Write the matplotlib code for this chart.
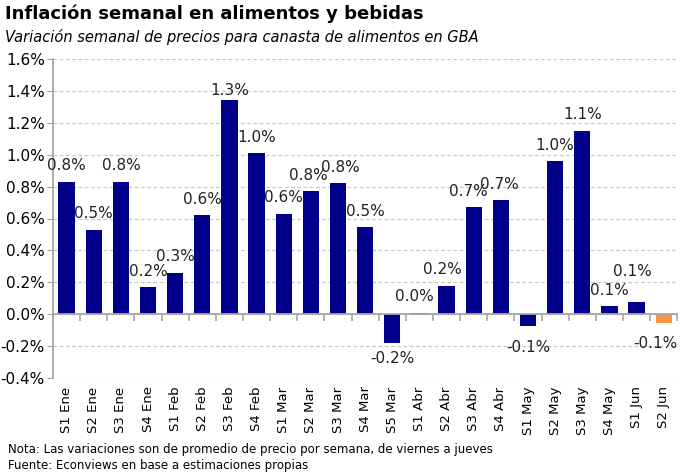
import numpy as np
import matplotlib
matplotlib.use("Agg")
import matplotlib.pyplot as plt
from matplotlib.ticker import FuncFormatter, FixedLocator

# Datos
semanas = ["S1 Ene", "S2 Ene", "S3 Ene", "S4 Ene", "S1 Feb", "S2 Feb", "S3 Feb",
           "S4 Feb", "S1 Mar", "S2 Mar", "S3 Mar", "S4 Mar", "S5 Mar", "S1 Abr",
           "S2 Abr", "S3 Abr", "S4 Abr", "S1 May", "S2 May", "S3 May", "S4 May",
           "S1 Jun", "S2 Jun"]
variacion = [0.83, 0.53, 0.83, 0.17, 0.26, 0.62, 1.34, 1.01, 0.63, 0.77, 0.82,
             0.545, -0.18, 0.01, 0.18, 0.67, 0.715, -0.075, 0.96, 1.15, 0.052,
             0.075, -0.055]
etiquetas = ["0.8%", "0.5%", "0.8%", "0.2%", "0.3%", "0.6%", "1.3%", "1.0%",
             "0.6%", "0.8%", "0.8%", "0.5%", "-0.2%", "0.0%", "0.2%", "0.7%",
             "0.7%", "-0.1%", "1.0%", "1.1%", "0.1%", "0.1%", "-0.1%"]

# ajuste manual de algunas etiquetas (puntos)
desp_x = {9: -2, 10: 2, 13: -4, 14: -3, 15: -4, 16: -1, 21: -3, 22: -6}
desp_y = {6: -4, 17: 4, 21: 11, 22: 3}

azul = "#00008B"
naranja = "#F79646"
colores = [azul] * (len(semanas) - 1) + [naranja]

fig = plt.figure(figsize=(6.8, 4.75), dpi=100)
ax = fig.add_axes([0.078, 0.204, 0.918, 0.672])

x = np.arange(len(semanas))
bars = ax.bar(x, variacion, width=0.6, color=colores, zorder=3)

ax.set_ylim(-0.4, 1.6)
ax.set_xlim(-0.5, len(semanas) - 0.5)
ax.set_yticks(np.arange(-0.4, 1.61, 0.2))
ax.yaxis.set_major_formatter(FuncFormatter(lambda v, p: f"{v:.1f}%"))
ax.grid(axis="y", linestyle=(0, (3, 2)), color="#c8c8c8", linewidth=0.9, zorder=0)

# eje en cero con marcas entre categorias
ax.spines["right"].set_visible(False)
ax.spines["bottom"].set_visible(False)
ax.spines["top"].set_position(("data", 0))
ax.spines["top"].set_color("#a6a6a6")
ax.spines["top"].set_linewidth(1.3)
ax.spines["top"].set_zorder(4)
ax.spines["left"].set_color("#a6a6a6")
ax.spines["left"].set_linewidth(1.3)

ax.set_xticks(x)
ax.set_xticklabels(semanas, rotation=90, fontsize=9.5)
ax.tick_params(axis="x", which="major", length=0, pad=6)
ax.xaxis.set_minor_locator(FixedLocator(np.arange(-0.5, len(semanas), 1.0)))
ax.tick_params(axis="x", which="minor", top=True, bottom=False, direction="in",
               length=5, color="#a6a6a6", width=1.2)
ax.tick_params(axis="y", length=4, color="#a6a6a6", labelsize=11, pad=2)

for i, (b, v, t) in enumerate(zip(bars, variacion, etiquetas)):
    if v >= 0:
        dy, va = 6 + desp_y.get(i, 0), "bottom"
    else:
        dy, va = -6 - desp_y.get(i, 0), "top"
    ax.annotate(t, (b.get_x() + b.get_width() / 2, v),
                xytext=(desp_x.get(i, 0), dy), textcoords="offset points",
                ha="center", va=va, fontsize=11, color="#222222", zorder=5)

fig.text(0.007, 0.972, "Inflación semanal en alimentos y bebidas", fontsize=13,
         fontweight="bold", va="center", ha="left")
fig.text(0.007, 0.922, "Variación semanal de precios para canasta de alimentos en GBA",
         fontsize=10.5, style="italic", va="center", ha="left")
fig.text(0.012, 0.054, "Nota: Las variaciones son de promedio de precio por semana, de viernes a jueves",
         fontsize=8.5, va="center", ha="left")
fig.text(0.012, 0.020, "Fuente: Econviews en base a estimaciones propias",
         fontsize=8.5, va="center", ha="left")

fig.savefig("out.png", dpi=100)
